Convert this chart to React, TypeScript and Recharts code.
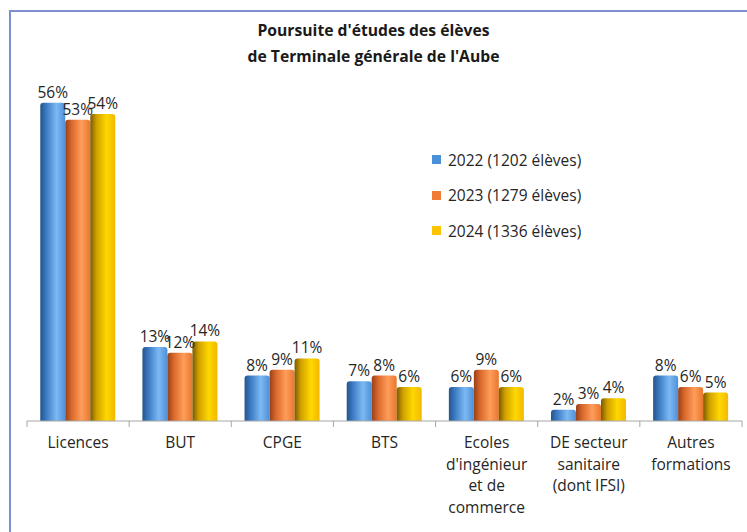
import React from "react";
import { BarChart, Bar, XAxis, YAxis, LabelList } from "recharts";

const categories = [
  "Licences",
  "BUT",
  "CPGE",
  "BTS",
  "Ecoles d'ingénieur et de commerce",
  "DE secteur sanitaire (dont IFSI)",
  "Autres formations",
];
const categoryLines = [
  ["Licences"],
  ["BUT"],
  ["CPGE"],
  ["BTS"],
  ["Ecoles", "d'ingénieur", "et de", "commerce"],
  ["DE secteur", "sanitaire", "(dont IFSI)"],
  ["Autres", "formations"],
];
const values2022 = [56, 13, 8, 7, 6, 2, 8];
const values2023 = [53, 12, 9, 8, 9, 3, 6];
const values2024 = [54, 14, 11, 6, 6, 4, 5];
const seriesNames = ["2022 (1202 élèves)", "2023 (1279 élèves)", "2024 (1336 élèves)"];

const data = categories.map((c, i) => ({
  name: c,
  y2022: values2022[i],
  y2023: values2023[i],
  y2024: values2024[i],
}));

const W = 747;
const H = 532;
const M = { top: 80, right: 5, left: 27, bottom: 0 };
const band = (W - M.left - M.right) / categories.length;

const legendItems = [
  { label: seriesNames[0], color: "#4a90d9" },
  { label: seriesNames[1], color: "#ef7b34" },
  { label: seriesNames[2], color: "#fcc400" },
];

const FONT = "Open Sans";

function CategoryTick(props: any) {
  const { x, y, payload, index } = props;
  const lines = categoryLines[index] || [payload.value];
  return (
    <g>
      <line x1={x - band / 2} x2={x - band / 2} y1={y - 8} y2={y - 2} stroke="#a6a6a6" />
      {index === categories.length - 1 && (
        <line x1={x + band / 2} x2={x + band / 2} y1={y - 8} y2={y - 2} stroke="#a6a6a6" />
      )}
      <text x={x} y={y + 19} textAnchor="middle" fontFamily={FONT} fontSize={15.5} fill="#262626">
        {lines.map((l: string, i: number) => (
          <tspan key={i} x={x} dy={i === 0 ? 0 : 21.5}>
            {l}
          </tspan>
        ))}
      </text>
    </g>
  );
}

function LegendBox() {
  return (
    <div style={{ position: "absolute", left: 432, top: 142, fontFamily: FONT, fontSize: 15.5, color: "#262626" }}>
      {legendItems.map((it) => (
        <div key={it.label} style={{ display: "flex", alignItems: "center", height: 35.5 }}>
          <span style={{ width: 9, height: 9, background: it.color, marginRight: 7, display: "inline-block" }} />
          {it.label}
        </div>
      ))}
    </div>
  );
}

const labelStyle = { fontFamily: FONT, fontSize: 15.5, fill: "#262626" };

export default function App() {
  return (
    <div style={{ position: "absolute", left: 0, top: 0, width: W, height: H, overflow: "hidden", background: "#fff" }}>
      <div
        style={{
          position: "absolute",
          left: 9,
          top: 10,
          width: W + 20,
          height: H + 20,
          borderLeft: "2px solid #7c8fd4",
          borderTop: "2px solid #7c8fd4",
        }}
      />
      <div
        style={{
          position: "absolute",
          left: 0,
          top: 17,
          width: W,
          textAlign: "center",
          fontFamily: FONT,
          fontWeight: 700,
          fontSize: 15.7,
          lineHeight: "26px",
          color: "#1a1a1a",
        }}
      >
        Poursuite d'études des élèves
        <br />
        de Terminale générale de l'Aube
      </div>
      <BarChart width={W} height={H} data={data} margin={M} barCategoryGap="13%" barGap={0} style={{ position: "absolute", left: 0, top: 0 }}>
        <defs>
          <linearGradient id="gBlue" x1="0" y1="0" x2="1" y2="0">
            <stop offset="0%" stopColor="#24548c" />
            <stop offset="25%" stopColor="#3d7cc4" />
            <stop offset="65%" stopColor="#7cb9f4" />
            <stop offset="100%" stopColor="#4f8fd6" />
          </linearGradient>
          <linearGradient id="gOrange" x1="0" y1="0" x2="1" y2="0">
            <stop offset="0%" stopColor="#96401a" />
            <stop offset="25%" stopColor="#d8682a" />
            <stop offset="65%" stopColor="#ff9d5a" />
            <stop offset="100%" stopColor="#e8772e" />
          </linearGradient>
          <linearGradient id="gYellow" x1="0" y1="0" x2="1" y2="0">
            <stop offset="0%" stopColor="#7a5a00" />
            <stop offset="25%" stopColor="#d0a000" />
            <stop offset="65%" stopColor="#ffd800" />
            <stop offset="100%" stopColor="#f2b800" />
          </linearGradient>
        </defs>
        <XAxis
          dataKey="name"
          height={111}
          axisLine={{ stroke: "#a6a6a6" }}
          tickLine={false}
          interval={0}
          tick={<CategoryTick />}
        />
        <YAxis hide domain={[0, 60]} />
        <Bar dataKey="y2022" name={seriesNames[0]} fill="url(#gBlue)" radius={[3, 3, 0, 0]} isAnimationActive={false}>
          <LabelList dataKey="y2022" position="top" offset={5} formatter={(v: any) => `${v}%`} style={labelStyle} />
        </Bar>
        <Bar dataKey="y2023" name={seriesNames[1]} fill="url(#gOrange)" radius={[3, 3, 0, 0]} isAnimationActive={false}>
          <LabelList dataKey="y2023" position="top" offset={5} formatter={(v: any) => `${v}%`} style={labelStyle} />
        </Bar>
        <Bar dataKey="y2024" name={seriesNames[2]} fill="url(#gYellow)" radius={[3, 3, 0, 0]} isAnimationActive={false}>
          <LabelList dataKey="y2024" position="top" offset={5} formatter={(v: any) => `${v}%`} style={labelStyle} />
        </Bar>
      </BarChart>
      <LegendBox />
    </div>
  );
}
